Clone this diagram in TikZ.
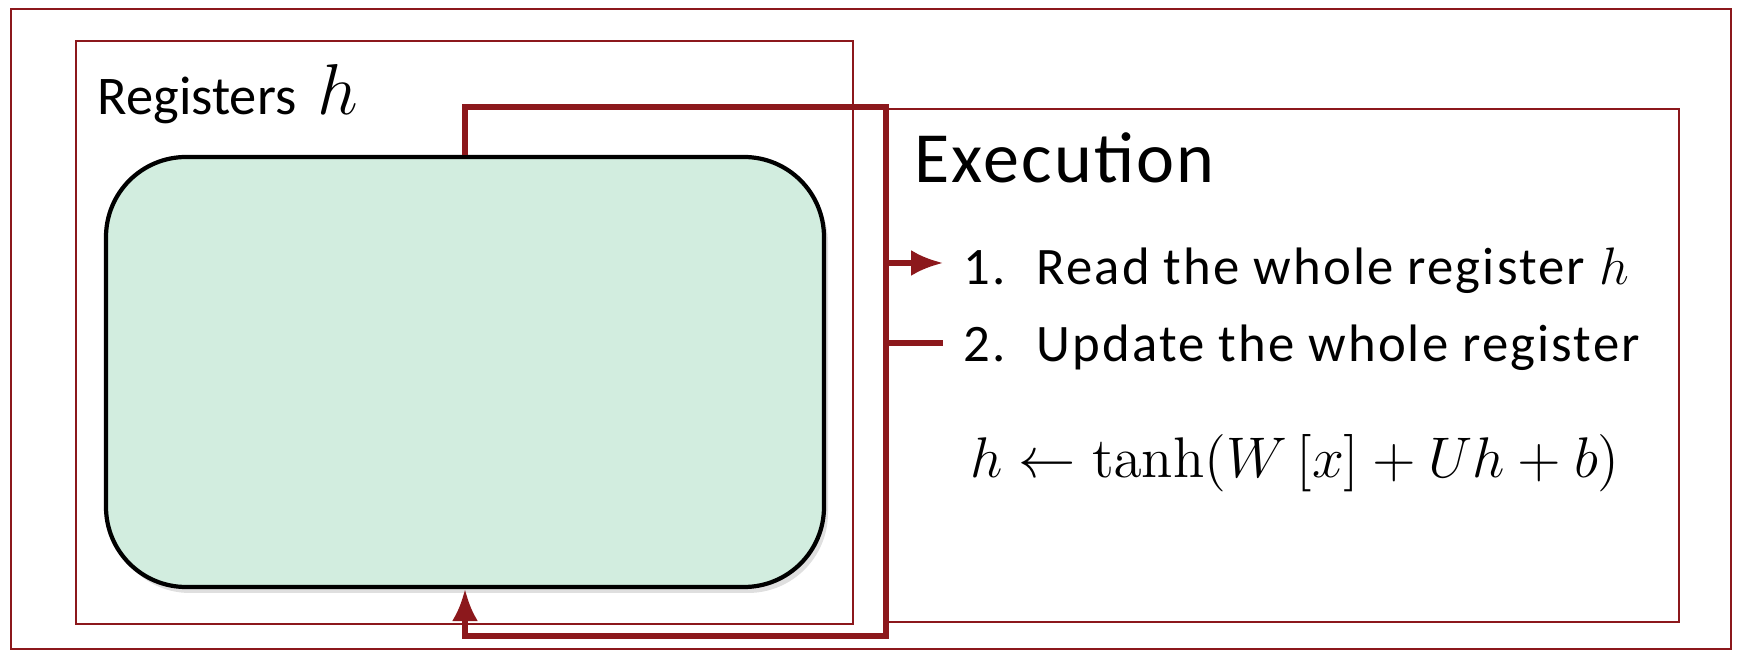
\RequirePackage{fix-cm}
\documentclass[tikz,border=0pt]{standalone}
\usepackage[no-math]{fontspec}
\setmainfont{Carlito}
\newfontfamily\spfont[LetterSpace=4]{Carlito}
\newfontfamily\exfont[LetterSpace=3]{Carlito}
\usetikzlibrary{arrows.meta,shadows}
\definecolor{dred}{RGB}{140,24,28}
\definecolor{mint}{RGB}{210,237,223}
\tikzset{
  frame/.style={draw=dred, line width=0.6pt},
  conn/.style={draw=dred, line width=1.5pt},
  arr/.style={-{Latex[length=3.2mm,width=2.6mm]}},
  greenbox/.style={draw=black, line width=1.2pt, fill=mint, rounded corners=8mm,
     drop shadow={shadow xshift=0.4mm, shadow yshift=-0.6mm, opacity=0.25}},
  txt/.style={anchor=base west, inner sep=0pt},
  itemtxt/.style={txt, font=\spfont\fontsize{15}{18}\selectfont},
}
\begin{document}
\begin{tikzpicture}[x=0.1mm,y=-0.1mm]
\useasboundingbox (0,0) rectangle (1743,653);
% frames
\draw[frame] (11,9) rectangle (1731,649);
\draw[frame] (76,41) rectangle (853,624);
\draw[frame] (886,109) rectangle (1679,622);
% register box
\node[greenbox, minimum width=71.8mm, minimum height=43mm] (green) at (465,372) {};
% texts
\node[txt, font=\fontsize{15.5}{18}\selectfont] (reg) at (97,115) {Registers\, {\fontsize{20.5}{24}\selectfont$h$}};
\node[txt, font=\exfont\fontsize{20.5}{24}\selectfont] (exec) at (914,183) {Execution};
\node[itemtxt] (n1) at (963,285) {1.};
\node[itemtxt] (t1) at (1036,285) {Read the whole register {\fontsize{15}{18}\selectfont$h$}};
\node[itemtxt] (n2) at (963,362) {2.};
\node[itemtxt] (t2) at (1036,362) {Update the whole register};
\node[txt, font=\fontsize{16.3}{19}\selectfont] (eq) at (970,478) {$h \leftarrow \tanh(W\,[x] + Uh + b)$};
% connectors
\coordinate (tr) at (886,107);
\coordinate (br) at (886,636);
\coordinate (b1) at (886,263);
\coordinate (a1) at (943,263);
\coordinate (b2) at (886,343);
\coordinate (a2) at (943,343);
\draw[conn, arr, line join=miter] (green.north) |- (tr) -- (br) -| (green.south);
\draw[conn, arr] (b1) -- (a1);
\draw[conn] (b2) -- (a2);
\end{tikzpicture}
\end{document}
